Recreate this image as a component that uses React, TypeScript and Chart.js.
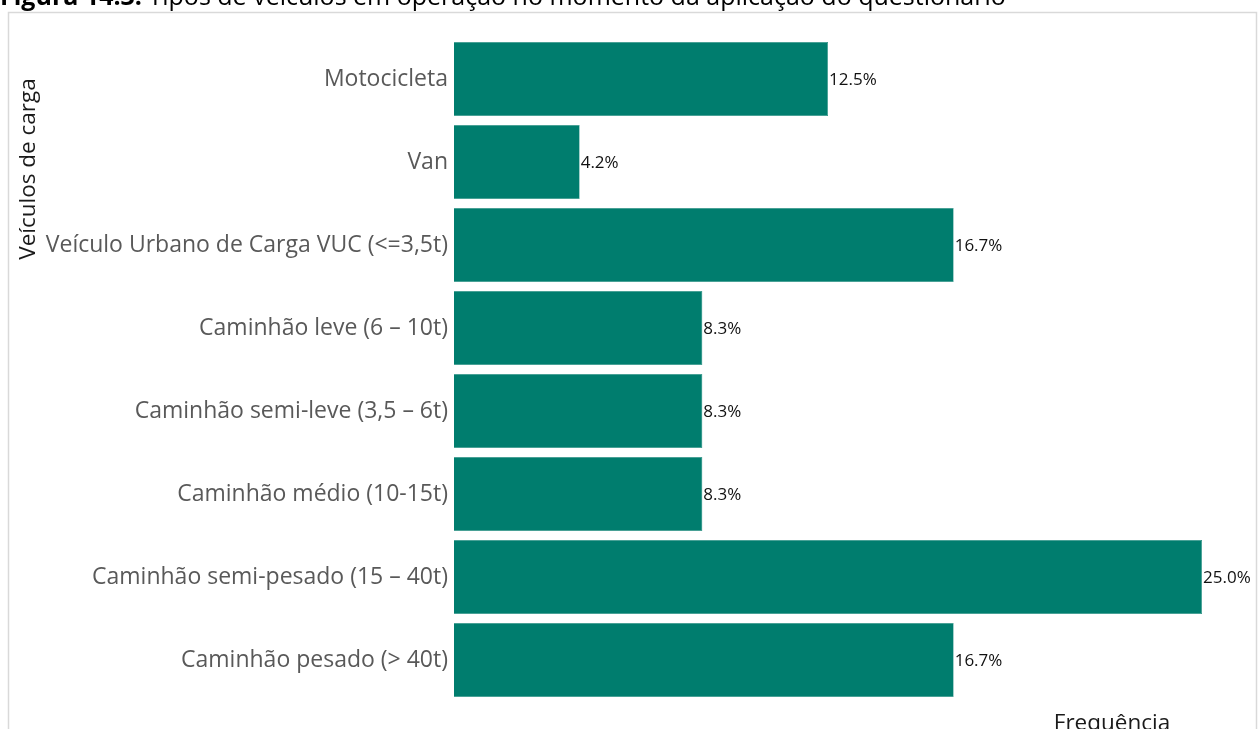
import React, { useEffect, useRef } from "react";
import { Chart, registerables } from "chart.js";

Chart.register(...registerables);

const categories = [
  "Motocicleta",
  "Van",
  "Veículo Urbano de Carga VUC (<=3,5t)",
  "Caminhão leve (6 – 10t)",
  "Caminhão semi-leve (3,5 – 6t)",
  "Caminhão médio (10-15t)",
  "Caminhão semi-pesado (15 – 40t)",
  "Caminhão pesado (> 40t)",
];
const frequencies = [12.5, 4.2, 16.7, 8.3, 8.3, 8.3, 25.0, 16.7];
const titleBold = "Figura 14.3:";
const titleRest = " Tipos de veículos em operação no momento da aplicação do questionário";
const yTitle = "Veículos de carga";
const xTitle = "Frequência";

const FONT = "'Open Sans', sans-serif";

const decorPlugin = {
  id: "decor",
  beforeDraw(chart: any) {
    const ctx = chart.ctx;
    ctx.save();
    ctx.fillStyle = "#ffffff";
    ctx.fillRect(0, 0, chart.width, chart.height);
    // frame
    ctx.strokeStyle = "#d9d9d9";
    ctx.lineWidth = 1.5;
    ctx.strokeRect(8.5, 12.5, 1248, 760);
    // title (cut at top)
    ctx.fillStyle = "#000000";
    ctx.textBaseline = "alphabetic";
    ctx.textAlign = "left";
    ctx.font = `bold 25px ${FONT}`;
    ctx.fillText(titleBold, 0, 5);
    const w = ctx.measureText(titleBold).width;
    ctx.font = `25px ${FONT}`;
    ctx.fillText(titleRest, w, 5);
    // y title
    ctx.translate(29, 169);
    ctx.rotate(-Math.PI / 2);
    ctx.textAlign = "center";
    ctx.textBaseline = "middle";
    ctx.font = `22.5px ${FONT}`;
    ctx.fillStyle = "#1a1a1a";
    ctx.fillText(yTitle, 0, 0);
    ctx.restore();
    // x title
    ctx.save();
    ctx.font = `22.5px ${FONT}`;
    ctx.fillStyle = "#1a1a1a";
    ctx.textAlign = "center";
    ctx.textBaseline = "top";
    ctx.fillText(xTitle, 1112, 712);
    ctx.restore();
  },
  afterDatasetsDraw(chart: any) {
    const ctx = chart.ctx;
    const meta = chart.getDatasetMeta(0);
    ctx.save();
    ctx.font = `17px ${FONT}`;
    ctx.fillStyle = "#111111";
    ctx.textAlign = "left";
    ctx.textBaseline = "middle";
    meta.data.forEach((bar: any, i: number) => {
      ctx.fillText(frequencies[i].toFixed(1) + "%", bar.x + 1, bar.y + 1);
    });
    ctx.restore();
  },
};

export default function App() {
  const ref = useRef<HTMLCanvasElement | null>(null);
  useEffect(() => {
    if (!ref.current) return;
    const chart = new Chart(ref.current, {
      type: "bar",
      data: {
        labels: categories,
        datasets: [
          {
            data: frequencies,
            backgroundColor: "#007d6e",
            borderColor: "#2f9486",
            borderWidth: 0.6,
            categoryPercentage: 1,
            barPercentage: 0.89,
          },
        ],
      },
      options: {
        indexAxis: "y",
        animation: false,
        responsive: false,
        maintainAspectRatio: false,
        layout: { padding: { left: 0, right: 56, top: 37.5, bottom: 27.5 } },
        plugins: { legend: { display: false }, tooltip: { enabled: false }, title: { display: false } },
        scales: {
          x: { display: false, min: 0, max: 25 },
          y: {
            grid: { display: false, drawTicks: false },
            border: { display: false },
            ticks: { color: "#595959", font: { family: FONT, size: 23 }, padding: 6 },
            afterFit(scale: any) {
              scale.width = 454;
            },
          },
        },
      },
      plugins: [decorPlugin],
    });
    return () => chart.destroy();
  }, []);
  return (
    <div style={{ position: "fixed", left: 0, top: 0, width: 1258, height: 729 }}>
      <canvas ref={ref} width={1258} height={729} style={{ display: "block" }} />
    </div>
  );
}
